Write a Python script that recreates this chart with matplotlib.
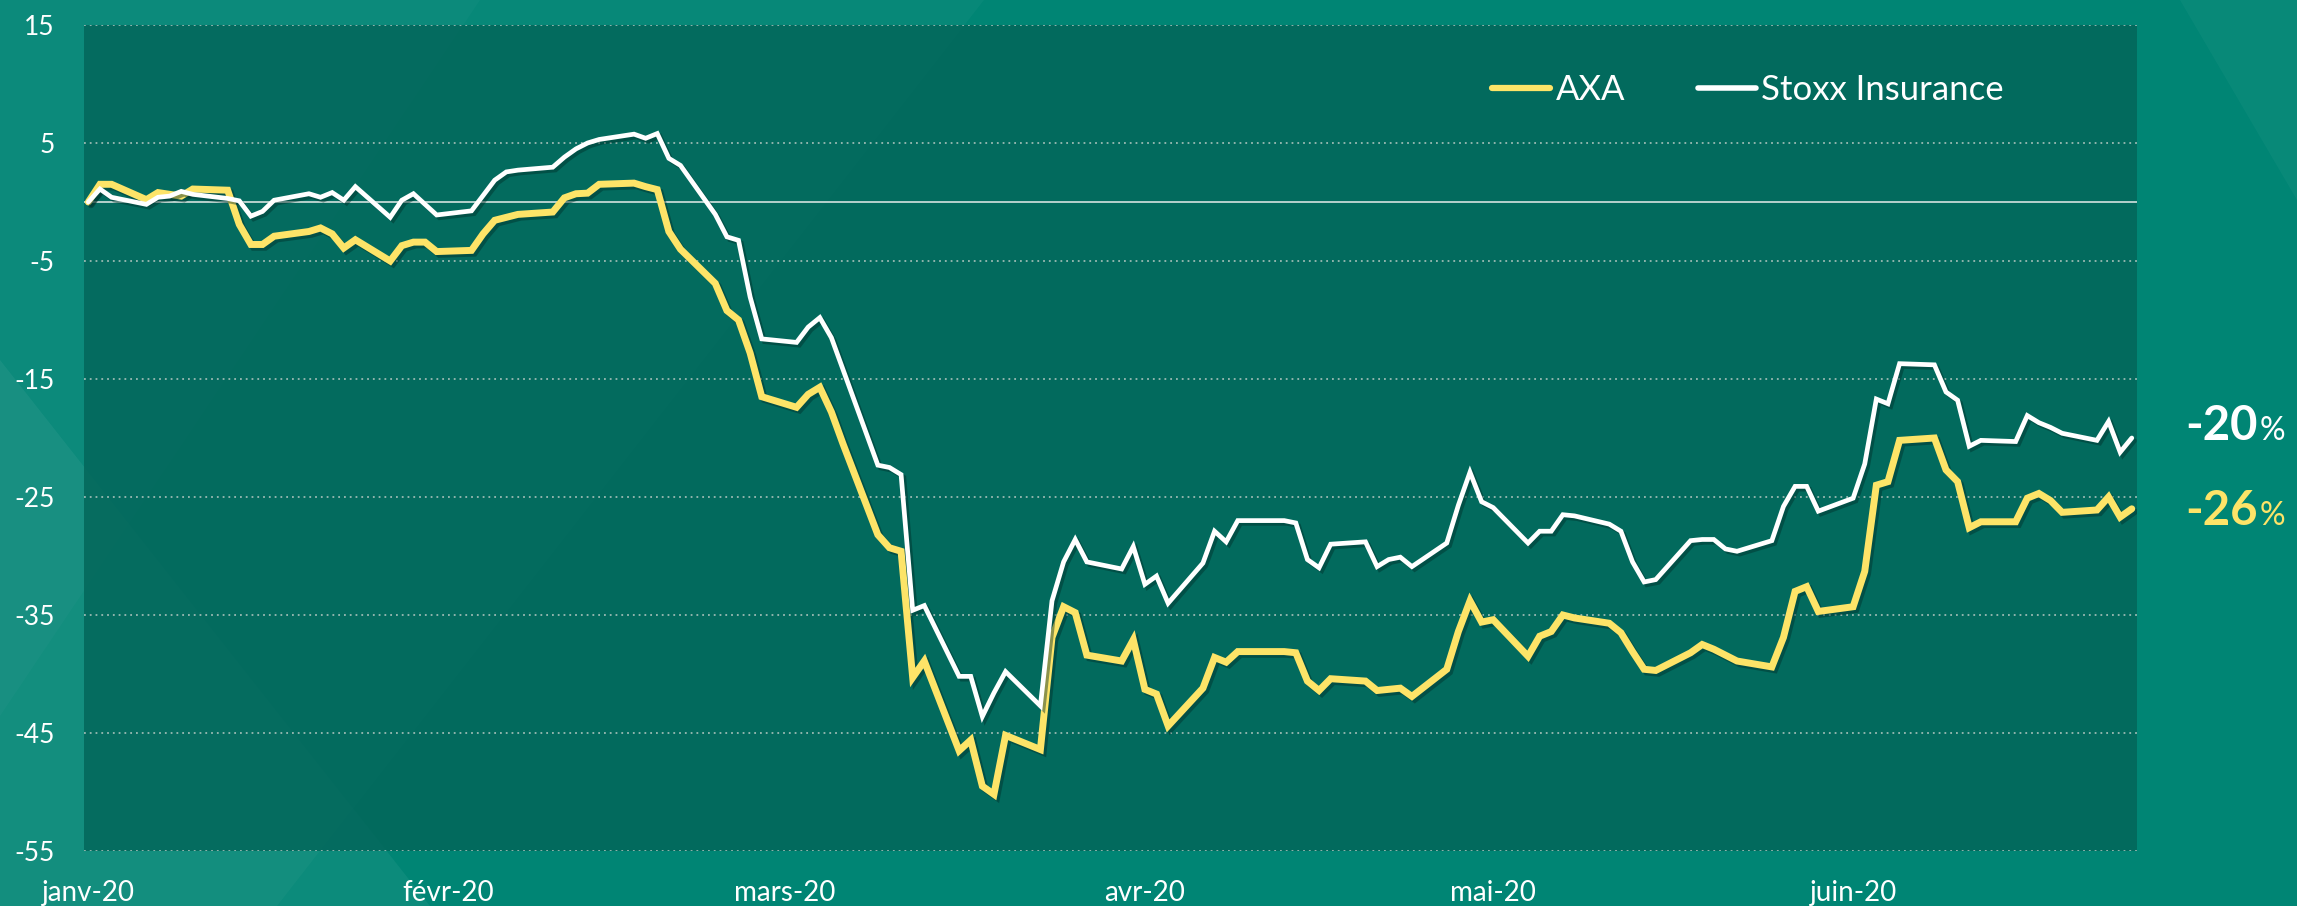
import numpy as np
import pandas as pd
import matplotlib
matplotlib.use("Agg")
import matplotlib.pyplot as plt
import matplotlib.patheffects as pe
from matplotlib.patches import Polygon
from matplotlib.lines import Line2D

plt.rcParams["font.family"] = ["Lato", "DejaVu Sans"]
plt.rcParams["axes.unicode_minus"] = False

# daily performance since 1 Jan 2020, in % (weekdays, holidays carried)
axa_jan = [0.0, 1.5, 1.5, 0.2, 0.8, 0.65, 0.5, 1.1, 1.0, -1.9, -3.6, -3.6, -2.9, -2.5, -2.2, -2.7,
           -3.9, -3.2, -5.0, -3.7, -3.4, -3.4, -4.2]
axa_feb = [-4.1, -2.7, -1.55, -1.3, -1.05, -0.85, 0.35, 0.7, 0.75, 1.5, 1.6, 1.3, 1.05, -2.5, -4.0,
           -6.9, -9.2, -10.0, -12.8, -16.5]
axa_mar = [-17.4, -16.3, -15.7, -17.8, -20.5, -28.2, -29.3, -29.6, -40.3, -38.9, -46.5, -45.6, -49.5,
           -50.2, -45.2, -46.4, -36.9, -34.3, -34.8, -38.4, -38.9, -37.1]
axa_apr = [-41.3, -41.7, -44.4, -41.2, -38.6, -39.0, -38.1, -38.1, -38.1, -38.2, -40.6, -41.4, -40.4,
           -40.6, -41.4, -41.3, -41.2, -41.9, -39.6, -36.4, -33.8, -35.6]
axa_may = [-35.4, -38.5, -36.8, -36.4, -35.0, -35.25, -35.7, -36.5, -38.1, -39.6, -39.7, -38.2, -37.5,
           -37.9, -38.4, -38.9, -39.4, -36.9, -33.0, -32.6, -34.7]
axa_jun = [-34.3, -31.3, -24.0, -23.7, -20.2, -20.0, -22.7, -23.7, -27.6, -27.1, -27.1, -25.1, -24.7,
           -25.3, -26.3, -26.1, -25.0, -26.7, -26.0]

stoxx_jan = [0.0, 1.1, 0.4, -0.2, 0.4, 0.5, 0.9, 0.65, 0.3, 0.1, -1.2, -0.8, 0.15, 0.7, 0.4, 0.8,
             0.15, 1.3, -1.3, 0.15, 0.7, -0.2, -1.1]
stoxx_feb = [-0.75, 0.55, 1.85, 2.55, 2.7, 2.95, 3.8, 4.5, 5.0, 5.3, 5.75, 5.4, 5.8, 3.7, 3.1,
             -1.05, -2.95, -3.25, -8.05, -11.6]
stoxx_mar = [-11.9, -10.6, -9.8, -11.5, -14.2, -22.3, -22.5, -23.1, -34.6, -34.2, -40.2, -40.2, -43.6,
             -41.6, -39.8, -42.7, -33.8, -30.5, -28.6, -30.5, -31.1, -29.2]
stoxx_apr = [-32.4, -31.7, -34.0, -30.6, -27.9, -28.8, -27.0, -27.0, -27.0, -27.2, -30.3, -31.0, -29.0,
             -28.8, -30.9, -30.3, -30.1, -30.9, -28.9, -25.7, -22.9, -25.4]
stoxx_may = [-25.9, -28.9, -27.9, -27.9, -26.5, -26.6, -27.3, -27.9, -30.5, -32.2, -32.0, -28.7, -28.6,
             -28.6, -29.4, -29.6, -28.7, -25.8, -24.1, -24.1, -26.2]
stoxx_jun = [-25.1, -22.2, -16.7, -17.1, -13.7, -13.8, -16.1, -16.8, -20.7, -20.2, -20.3, -18.1, -18.7,
             -19.1, -19.6, -20.2, -18.6, -21.2, -20.0]

axa = axa_jan + axa_feb + axa_mar + axa_apr + axa_may + axa_jun
stoxx = stoxx_jan + stoxx_feb + stoxx_mar + stoxx_apr + stoxx_may + stoxx_jun
dates = pd.bdate_range("2020-01-01", "2020-06-25")

month_ticks = pd.date_range("2020-01-01", "2020-06-01", freq="MS")
month_labels = ["janv-20", "févr-20", "mars-20", "avr-20", "mai-20", "juin-20"]
y_ticks = [15, 5, -5, -15, -25, -35, -45, -55]

YELLOW = "#fde468"
W, H = 2297, 906

fig = plt.figure(figsize=(W / 100, H / 100), dpi=100)
fig.patch.set_facecolor("#008574")


def fig_poly(pts, alpha, color="white"):
    xy = [(x / W, 1 - y / H) for x, y in pts]
    fig.patches.append(Polygon(xy, closed=True, transform=fig.transFigure,
                               facecolor=color, edgecolor="none", alpha=alpha, zorder=-5))


# soft diagonal light bands in the background
fig_poly([(0, 0), (984, 0), (277, 906), (0, 906)], 0.03)
fig_poly([(0, 0), (480, 0), (0, 716)], 0.025)
fig_poly([(0, 360), (0, 906), (430, 906)], 0.05)
fig_poly([(2180, 0), (W, 0), (W, 200)], 0.035)

ax = fig.add_axes([83.5 / W, (H - 851) / H, (2137 - 83.5) / W, (851 - 25) / H])
ax.set_facecolor((0.01, 0.40, 0.353, 0.85))

shadow = [pe.SimpleLineShadow(offset=(2, -2), shadow_color="#00302a", alpha=0.45), pe.Normal()]
ax.plot(dates, axa, color=YELLOW, lw=5.0, solid_joinstyle="miter", solid_capstyle="round",
        path_effects=shadow, zorder=3)
ax.plot(dates, stoxx, color="white", lw=3.4, solid_joinstyle="miter", solid_capstyle="round",
        path_effects=shadow, zorder=4)

ax.axhline(0, color="#d5e2df", lw=1.2, zorder=2)
ax.set_ylim(-55, 15)
ax.set_yticks(y_ticks)
ax.grid(axis="y", color="#9bbab3", lw=1.3, ls=(0, (1, 2.2)))
ax.set_axisbelow(True)

x0 = pd.Timestamp("2020-01-01")
ax.set_xlim(x0 - pd.Timedelta(hours=10), x0 + pd.Timedelta(hours=176.45 * 24))
ax.set_xticks(month_ticks)
ax.set_xticklabels(month_labels)

for s in ax.spines.values():
    s.set_visible(False)
ax.tick_params(axis="y", length=0, pad=21, labelsize=19, labelcolor="white")
ax.tick_params(axis="x", length=0, pad=21, labelsize=20, labelcolor="white")

handles = [Line2D([], [], color=YELLOW, lw=4.5, solid_capstyle="round"),
           Line2D([], [], color="white", lw=4.0, solid_capstyle="round")]
leg = ax.legend(handles, ["AXA", "Stoxx Insurance"], loc="center left",
                bbox_to_anchor=(0.686, 0.921), ncol=2, frameon=False, fontsize=25,
                handlelength=1.67, handletextpad=0.15, columnspacing=2.1,
                borderpad=0, borderaxespad=0)
for t in leg.get_texts():
    t.set_color("white")

# end-of-period labels
xe = (2258 - 83.5) / (2137 - 83.5)
for num, yb, col in [("-20", -20.2, "white"), ("-26", -27.4, YELLOW)]:
    ax.text(xe, yb, num, transform=ax.get_yaxis_transform(), ha="right", va="baseline",
            fontsize=34, fontweight="bold", color=col, clip_on=False)
    ax.text(xe + 0.001, yb, "%", transform=ax.get_yaxis_transform(), ha="left", va="baseline",
            fontsize=23, color=col, clip_on=False)

fig.savefig("out.png", dpi=100, facecolor=fig.get_facecolor())
